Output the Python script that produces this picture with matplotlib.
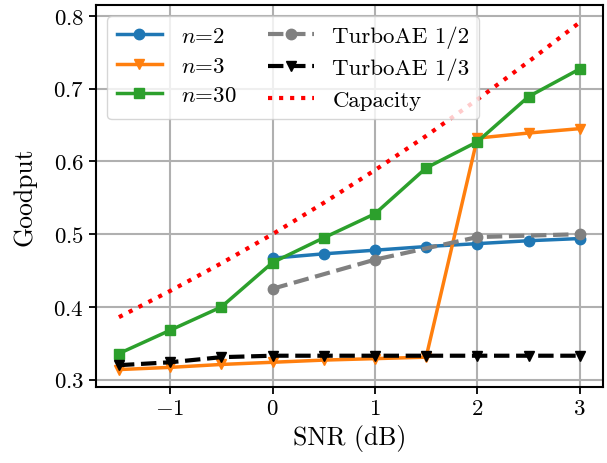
import numpy as np
import matplotlib
matplotlib.use("Agg")
from matplotlib import pyplot as plt

plt.rcParams['font.family'] = 'serif'
plt.rcParams['font.serif'] = ['cmr10']
plt.rcParams['mathtext.fontset'] = 'cm'
plt.rcParams['axes.formatter.use_mathtext'] = True
plt.rcParams['font.size'] = 16.5

snr = [-1.5, -1.0, -0.5, 0.0, 0.5, 1.0, 1.5, 2.0, 2.5, 3.0]
snr_n2 = [0.0, 0.5, 1.0, 1.5, 2.0, 2.5, 3.0]
goodput_n2 = [0.467, 0.473, 0.478, 0.483, 0.487, 0.491, 0.494]
goodput_n3 = [0.314, 0.317, 0.321, 0.324, 0.327, 0.329, 0.331, 0.632, 0.639, 0.645]
goodput_n30 = [0.336, 0.368, 0.400, 0.461, 0.495, 0.528, 0.591, 0.627, 0.689, 0.727]
snr_turbo12 = [0.0, 1.0, 2.0, 3.0]
goodput_turbo12 = [0.425, 0.465, 0.496, 0.500]
goodput_turbo13 = [0.320, 0.324, 0.331, 0.333, 0.333, 0.333, 0.333, 0.333, 0.333, 0.333]
capacity = [0.386, 0.422, 0.460, 0.500, 0.543, 0.588, 0.635, 0.685, 0.737, 0.791]

fig = plt.figure(figsize=(6.07, 4.64), dpi=100)
ax = fig.add_axes([0.158, 0.164, 0.835, 0.823])

ax.plot(snr_n2, goodput_n2, '-o', color='tab:blue', lw=2.5, ms=7.5, label=r'$n$=2')
ax.plot(snr, goodput_n3, '-v', color='tab:orange', lw=2.5, ms=7.5, label=r'$n$=3')
ax.plot(snr, goodput_n30, '-s', color='tab:green', lw=2.5, ms=7.5, label=r'$n$=30')
ax.plot(snr_turbo12, goodput_turbo12, '--o', color='grey', lw=3, ms=7.5, label='TurboAE 1/2')
ax.plot(snr, goodput_turbo13, '--v', color='black', lw=3, ms=7.5, label='TurboAE 1/3')
ax.plot(snr, capacity, ':', color='red', lw=3, label='Capacity')

ax.set_xlabel('SNR (dB)', fontsize=18.5)
ax.set_ylabel('Goodput', fontsize=18.5, labelpad=12)
ax.set_xticks([-1, 0, 1, 2, 3])
ax.set_yticks([0.3, 0.4, 0.5, 0.6, 0.7, 0.8])
ax.tick_params(width=1.3, length=5)
ax.grid(True, color='#b0b0b0', lw=1.5)
for s in ax.spines.values():
    s.set_linewidth(1.5)
ax.legend(ncol=2, loc='upper left', fontsize=16.5, handlelength=2.0,
          columnspacing=1.4, labelspacing=0.42, borderaxespad=0.5)

plt.savefig('out.png')
